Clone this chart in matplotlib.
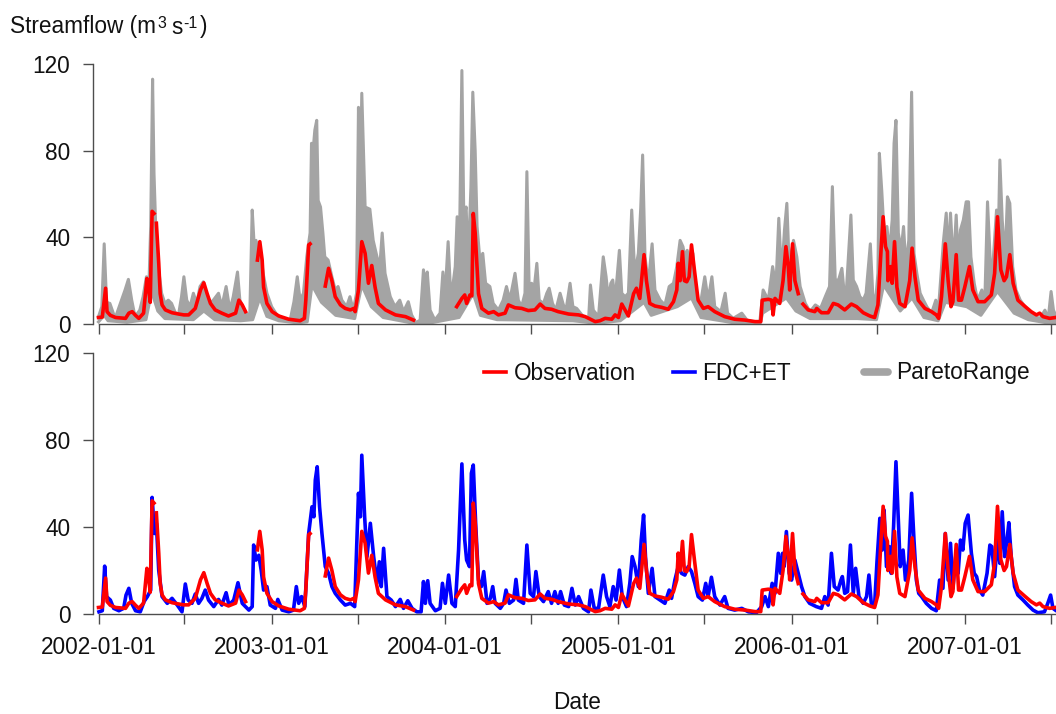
import numpy as np
import matplotlib
matplotlib.use('Agg')
import matplotlib.pyplot as plt
from matplotlib.lines import Line2D
from matplotlib.legend import Legend

plt.rcParams['font.family'] = ['Liberation Sans', 'DejaVu Sans']

# ---------------- data (days since 2002-01-01, streamflow m3/s) ----------------
nan = np.nan
obs_day = [0, 8, 15, 18, 25, 36, 57, 64, 71, 78, 85, 95, 102, 106, 109, 113, 117, 119,
           122, 127, 130, 134, 141, 155, 169, 180, 190, 197, 204, 215, 222, 229, 236, 246,
           260, 274, 289, 296, 303, 310, 320, 335, 340, 345, 348, 355, 366, 380, 401, 415,
           425, 434, 437, 443, 446, 460, 478, 485, 492, 499, 510, 520, 531, 538, 541, 548,
           555, 562, 569, 576, 583, 590, 605, 626, 647, 664, 700, 755, 766, 772, 776, 783,
           787, 790, 794, 801, 808, 822, 833, 843, 857, 864, 878, 892, 906, 920, 931, 941,
           955, 969, 991, 1012, 1026, 1047, 1057, 1068, 1082, 1089, 1096, 1103, 1110, 1117,
           1128, 1134, 1141, 1150, 1155, 1162, 1173, 1187, 1201, 1212, 1219, 1222, 1226,
           1231, 1235, 1240, 1245, 1250, 1257, 1264, 1275, 1285, 1299, 1320, 1341, 1363,
           1384, 1396, 1399, 1412, 1419, 1422, 1426, 1436, 1443, 1449, 1454, 1457, 1463,
           1468, 1475, 1480, 1485, 1496, 1510, 1514, 1524, 1538, 1549, 1559, 1573, 1587,
           1598, 1612, 1626, 1636, 1643, 1650, 1654, 1659, 1663, 1664, 1670, 1673, 1678,
           1683, 1689, 1700, 1710, 1715, 1721, 1728, 1742, 1756, 1766, 1771, 1777, 1785,
           1791, 1797, 1801, 1808, 1813, 1819, 1826, 1836, 1843, 1854, 1868, 1882, 1889,
           1895, 1902, 1909, 1914, 1921, 1928, 1938, 1952, 1966, 1977, 1984, 1991, 2005, 2017]
obs_val = [3.0, 3.2, 16.5, 5.7, 4.0, 3.0, 2.6, 5.0, 5.7, 4.0, 2.6, 5.0, 21.0, 15.7, 10.0, 52.0, 51.0, nan,
           46.5, 28.0, 14.0, 8.8, 6.5, 5.2, 4.6, 4.2, 4.2, 5.7, 7.2, 15.7, 19.0, 14.0, 9.5, 6.5,
           5.0, 3.7, 5.0, 11.0, 8.8, 5.7, nan, 29.5, 38.0, 29.5, 17.0, 9.5, 5.7, 3.7, 2.2, 1.8,
           1.5, 2.6, 11.0, 36.5, 37.0, nan, 17.5, 25.7, 20.0, 12.6, 8.8, 7.2, 6.5, 7.2, 5.7, 15.7,
           38.0, 32.6, 18.8, 27.0, 17.0, 9.5, 6.5, 4.2, 3.4, 1.8, nan, 8.0, 11.8, 13.4, 9.5, 13.4,
           13.0, 51.0, 42.0, 14.0, 7.2, 5.0, 5.7, 4.2, 5.0, 8.8, 7.5, 7.2, 6.2, 6.5, 9.2, 7.2,
           6.8, 5.7, 4.6, 4.2, 3.4, 1.1, 1.5, 2.6, 2.2, 4.2, 3.0, 9.2, 6.5, 3.7,
           14.0, 16.5, 11.8, 32.0, 20.0, 9.5, 8.3, 7.7, 6.8, 10.3, 15.7, 28.0, 20.0,
           33.4, 20.0, 19.5, 21.8, 36.5, 23.4, 11.0, 7.2, 8.0, 5.7, 3.4, 2.2, 1.8,
           1.1, 1.1, 11.0, 11.4, 11.0, 4.2, 11.8, 9.5, 20.0, 35.7, 26.5, 15.7, 37.0,
           20.0, 14.0, nan, 9.2, 6.5, 5.7, 7.2, 5.2, 5.2, 9.5, 8.8, 6.5, 9.2,
           8.0, 5.2, 3.7, 3.0, 8.8, 35.7, 49.5, 35.7, 33.4, 20.0, 26.5, 18.8, 38.0,
           17.0, 9.5, 8.0, 20.0, 35.0, 21.8, 11.0, 7.2, 5.7, 4.2, 2.6, 12.6, 37.0,
           20.0, 8.0, 10.3, 32.0, 11.0, 11.0, 17.0, 26.5, 15.7, 10.3, 10.3, 13.4, 23.4,
           49.5, 25.0, 20.0, 21.8, 32.0, 18.8, 11.0, 8.3, 5.7, 4.2, 5.0, 3.4, 2.6, 3.0]

fdc_day = [1, 8, 13, 17, 25, 32, 43, 53, 58, 64, 70, 78, 88, 96, 103, 110, 113, 118, 122,
           127, 134, 145, 155, 166, 176, 183, 189, 197, 204, 211, 218, 225, 232, 243, 253,
           260, 269, 275, 285, 294, 303, 317, 324, 327, 332, 338, 343, 348, 355, 362, 373,
           378, 387, 401, 411, 417, 422, 428, 435, 443, 450, 454, 457, 461, 466, 471, 478,
           485, 492, 499, 510, 520, 531, 540, 548, 552, 555, 561, 566, 573, 580, 587, 592,
           596, 601, 608, 617, 626, 636, 643, 652, 661, 671, 680, 685, 689, 694, 699, 710,
           720, 725, 731, 738, 745, 752, 759, 766, 772, 776, 782, 786, 790, 795, 801, 807,
           812, 819, 826, 831, 836, 847, 854, 859, 866, 875, 880, 885, 896, 903, 910, 917,
           922, 929, 938, 948, 955, 962, 969, 974, 982, 991, 998, 1005, 1012, 1022, 1033,
           1038, 1045, 1054, 1064, 1071, 1078, 1085, 1091, 1098, 1104, 1113, 1120, 1125,
           1131, 1138, 1144, 1149, 1153, 1159, 1167, 1173, 1184, 1194, 1203, 1208, 1215,
           1222, 1229, 1236, 1243, 1250, 1257, 1264, 1273, 1280, 1285, 1292, 1299, 1310,
           1320, 1327, 1341, 1356, 1370, 1387, 1398, 1405, 1412, 1420, 1426, 1433, 1438,
           1442, 1445, 1450, 1456, 1461, 1468, 1475, 1482, 1489, 1499, 1513, 1524, 1531,
           1538, 1545, 1551, 1559, 1565, 1568, 1573, 1579, 1585, 1591, 1596, 1603, 1612,
           1619, 1624, 1629, 1636, 1641, 1647, 1652, 1656, 1661, 1667, 1671, 1676, 1681,
           1686, 1690, 1696, 1701, 1708, 1714, 1719, 1724, 1729, 1735, 1745, 1756, 1766,
           1773, 1780, 1785, 1791, 1796, 1801, 1807, 1812, 1817, 1822, 1827, 1833, 1840,
           1846, 1851, 1857, 1864, 1873, 1879, 1883, 1889, 1895, 1900, 1905, 1910, 1915,
           1919, 1924, 1931, 1938, 1949, 1959, 1970, 1980, 1994, 2001, 2007, 2012, 2017]
fdc_val = [1.0, 1.5, 22.0, 8.0, 6.4, 2.6, 1.5, 2.6, 8.7, 11.8, 4.9, 1.5, 1.0, 5.7, 8.0, 11.0, 53.6, 37.0, 41.7,
           20.0, 8.0, 4.9, 7.2, 4.1, 1.0, 13.8, 6.4, 4.9, 9.2, 4.9, 7.2, 11.0, 6.4, 3.4, 6.7,
           4.1, 9.8, 4.1, 6.4, 14.4, 4.9, 1.8, 3.4, 31.7, 24.8, 27.0, 20.0, 11.0, 12.6, 4.1, 2.6,
           6.7, 1.8, 1.0, 1.8, 12.6, 4.9, 8.0, 3.4, 37.0, 49.3, 44.7, 61.6, 67.7, 49.3, 37.0, 21.8,
           18.7, 12.6, 9.5, 6.4, 4.1, 4.9, 3.4, 55.5, 44.7, 73.0, 44.7, 26.4, 41.7, 26.4, 14.1, 24.0,
           12.6, 30.2, 8.0, 6.4, 3.4, 6.7, 2.6, 6.1, 2.6, 1.0, 1.0, 14.9, 4.9, 15.3, 4.9, 1.5,
           2.6, 14.1, 4.9, 17.9, 4.9, 3.4, 29.4, 69.0, 34.0, 24.8, 21.8, 64.7, 68.5, 41.7, 15.6, 12.6,
           19.5, 4.9, 7.2, 12.6, 4.9, 2.6, 4.9, 11.0, 4.9, 6.4, 15.9, 6.4, 4.9, 31.7, 9.5, 8.0,
           19.5, 8.0, 5.7, 10.3, 4.9, 10.3, 4.9, 10.3, 4.1, 3.4, 11.8, 4.1, 8.0, 2.6, 1.0,
           11.0, 2.6, 2.6, 17.9, 8.0, 3.4, 12.6, 6.4, 20.2, 8.0, 3.4, 14.1, 26.4,
           21.8, 12.6, 34.0, 45.5, 26.4, 9.5, 21.0, 8.0, 6.4, 4.9, 11.0, 7.2, 15.6,
           21.8, 18.7, 17.9, 21.8, 19.5, 14.1, 8.0, 6.4, 14.1, 8.0, 16.9, 8.0, 4.1,
           8.0, 2.6, 1.8, 2.6, 1.0, 0.6, 3.4, 8.0, 3.4, 14.1, 9.5, 27.9, 18.7,
           27.9, 21.8, 37.9, 18.7, 15.6, 24.8, 18.7, 12.6, 8.0, 4.9, 3.4, 2.6, 8.0,
           4.1, 27.9, 12.6, 11.0, 15.6, 17.2, 9.5, 10.3, 31.7, 9.5, 21.0, 8.0, 4.9,
           8.0, 17.9, 4.9, 4.1, 24.0, 44.0, 29.4, 47.8, 21.8, 31.0, 18.7, 40.2, 70.0,
           43.2, 21.8, 29.4, 15.6, 24.8, 55.5, 34.0, 15.6, 9.5, 8.0, 4.9, 2.6, 1.5,
           15.6, 11.8, 37.0, 15.6, 32.5, 11.8, 26.4, 18.7, 34.0, 29.4, 41.7, 45.5, 27.9,
           18.7, 17.2, 11.0, 8.7, 18.7, 31.7, 31.0, 17.2, 34.0, 23.3, 47.0, 26.4, 34.0,
           42.0, 26.4, 12.6, 8.7, 6.4, 4.1, 1.8, 0.6, 1.0, 4.9, 8.7, 2.6, 1.8]

pareto_hi_day = [0, 7, 12, 17, 24, 35, 56, 63, 70, 77, 87, 94, 101, 106, 110, 114, 117, 121,
                 126, 133, 140, 147, 154, 161, 168, 175, 180, 186, 193, 200, 207, 214, 221,
                 228, 235, 242, 253, 260, 269, 277, 284, 293, 298, 312, 319, 324, 328, 332,
                 337, 340, 347, 355, 365, 376, 390, 404, 412, 419, 425, 432, 439, 446, 449,
                 453, 456, 460, 463, 468, 473, 477, 484, 492, 499, 505, 513, 523, 530, 537,
                 544, 548, 551, 555, 562, 572, 579, 587, 593, 598, 604, 615, 625, 635, 643,
                 653, 660, 669, 678, 685, 690, 693, 699, 709, 720, 726, 730, 737, 743, 752,
                 756, 761, 766, 770, 775, 779, 785, 789, 794, 798, 804, 810, 816, 825, 832,
                 843, 853, 860, 867, 878, 885, 892, 899, 903, 908, 913, 918, 924, 929, 938,
                 945, 950, 957, 964, 973, 979, 985, 994, 1000, 1008, 1019, 1033, 1037, 1043,
                 1054, 1064, 1070, 1075, 1080, 1084, 1089, 1098, 1103, 1110, 1117, 1124, 1129,
                 1133, 1138, 1143, 1147, 1152, 1159, 1167, 1173, 1184, 1194, 1203, 1212, 1219,
                 1226, 1232, 1236, 1241, 1247, 1253, 1257, 1268, 1278, 1285, 1293, 1299, 1312,
                 1321, 1326, 1338, 1356, 1367, 1381, 1394, 1401, 1412, 1421, 1428, 1434, 1440,
                 1446, 1451, 1456, 1465, 1472, 1479, 1490, 1500, 1511, 1522, 1532, 1541, 1547,
                 1553, 1560, 1567, 1572, 1577, 1586, 1591, 1598, 1605, 1612, 1618, 1627, 1632,
                 1637, 1643, 1646, 1651, 1656, 1662, 1667, 1673, 1677, 1681, 1686, 1692, 1697,
                 1702, 1708, 1714, 1719, 1725, 1732, 1739, 1746, 1756, 1765, 1770, 1781, 1787,
                 1791, 1796, 1802, 1808, 1812, 1817, 1823, 1829, 1834, 1839, 1846, 1853, 1862,
                 1868, 1874, 1880, 1886, 1893, 1897, 1900, 1905, 1911, 1916, 1921, 1927, 1934,
                 1943, 1953, 1964, 1974, 1985, 1995, 2002, 2008, 2013, 2019]
pareto_hi_val = [3.4, 8.0, 37.0, 10.0, 9.5, 2.6, 15.7, 20.6, 11.0, 3.4, 6.4, 12.6, 21.8, 15.7, 45.0, 113.0, 69.5, 42.0,
                 26.5, 14.2, 9.5, 11.0, 9.5, 5.7, 3.4, 12.6, 21.8, 11.0, 8.0, 14.2, 9.5, 17.3, 19.5,
                 12.6, 9.5, 11.0, 14.2, 8.0, 17.3, 6.4, 12.6, 24.0, 11.0, 4.0, 5.0, 52.6, 37.0, 38.6,
                 32.6, 35.7, 23.4, 14.2, 8.0, 4.2, 2.6, 1.8, 10.3, 21.8, 11.0, 14.2, 31.0, 42.0, 83.4,
                 81.8, 89.5, 94.0, 57.0, 54.0, 42.0, 31.0, 29.5, 21.8, 15.7, 17.3, 11.0, 8.0, 12.6, 6.4,
                 14.2, 100.0, 50.0, 106.5, 54.0, 53.0, 38.6, 31.0, 26.5, 42.0, 23.4, 12.6, 8.0, 11.0, 5.7,
                 10.3, 4.2, 0.6, 1.8, 25.0, 15.7, 24.0, 6.4, 1.8, 5.0, 24.0, 11.0, 38.0, 11.0, 26.5,
                 49.5, 38.6, 117.0, 49.5, 54.0, 26.5, 63.0, 107.0, 80.0, 45.0, 29.5, 32.6, 18.8, 17.3, 9.5,
                 6.4, 11.0, 17.3, 11.0, 23.4, 11.0, 8.0, 14.2, 70.3, 14.2, 18.8, 15.7, 28.0, 11.0, 9.5,
                 14.2, 16.5, 9.5, 6.4, 14.2, 9.5, 5.7, 18.8, 8.0, 7.2, 4.2, 1.8, 18.0, 6.4,
                 3.4, 31.0, 21.8, 11.0, 18.8, 20.3, 11.0, 34.0, 14.2, 12.6, 14.2, 52.6, 29.5,
                 26.5, 32.6, 53.5, 78.0, 31.0, 18.8, 37.0, 15.7, 11.0, 8.8, 17.3, 18.8, 26.5,
                 38.6, 35.7, 31.0, 34.0, 28.0, 32.6, 14.2, 8.0, 21.8, 11.0, 21.8, 8.0, 5.7,
                 14.2, 5.0, 2.6, 5.0, 1.8, 1.0, 1.0, 15.7, 11.0, 26.5, 17.3, 48.8, 21.8,
                 43.4, 55.7, 26.5, 38.6, 31.0, 17.3, 9.5, 5.7, 8.8, 7.2, 12.6, 17.3, 63.4,
                 20.3, 20.3, 25.7, 14.2, 17.3, 50.3, 20.3, 17.3, 12.6, 11.0, 14.2, 37.0, 14.2,
                 8.0, 23.4, 78.8, 61.8, 42.0, 45.0, 32.6, 48.0, 83.4, 94.0, 42.0, 34.0, 45.0,
                 26.5, 38.6, 107.0, 32.6, 23.4, 14.2, 11.0, 8.0, 5.0, 11.0, 5.0, 38.0, 51.2,
                 29.5, 51.2, 26.5, 50.3, 29.5, 43.4, 48.0, 56.4, 56.4, 31.0, 18.8, 11.0, 15.7,
                 8.0, 56.4, 28.0, 29.5, 52.6, 42.0, 75.7, 48.0, 29.5, 58.7, 55.7, 26.5, 15.7,
                 11.0, 8.0, 5.0, 3.4, 2.6, 6.4, 2.6, 15.0, 6.4, 3.4]

pareto_lo_day = [0, 12, 20, 60, 100, 112, 125, 140, 200, 222, 245, 300, 325, 340, 355, 380,
                 420, 440, 450, 470, 500, 540, 555, 575, 600, 660, 700, 760, 790, 805, 840,
                 1000, 1050, 1100, 1150, 1165, 1220, 1250, 1270, 1340, 1395, 1400, 1450, 1470,
                 1500, 1600, 1640, 1655, 1690, 1715, 1740, 1770, 1785, 1830, 1860, 1895, 1930,
                 1960, 2000, 2019]
pareto_lo_val = [1.0, 4.0, 1.5, 0.8, 2.0, 15.0, 6.0, 2.5, 2.0, 6.0, 2.0, 1.5, 2.0, 12.0, 3.5, 1.5,
                 0.5, 1.0, 18.0, 10.0, 4.0, 2.5, 18.0, 8.0, 3.0, 0.5, 0.5, 3.0, 14.0, 4.0, 2.0,
                 1.5, 0.3, 1.5, 10.0, 4.0, 8.0, 12.0, 3.0, 0.5, 0.5, 5.0, 12.0, 6.0,
                 2.5, 2.5, 2.0, 18.0, 6.0, 12.0, 3.0, 1.5, 10.0, 8.0, 4.0, 15.0, 5.0,
                 2.0, 0.5, 0.5]

tick_dates = ['2002-01-01', '2002-07-01', '2003-01-01', '2003-07-01', '2004-01-01',
              '2004-07-01', '2005-01-01', '2005-07-01', '2006-01-01', '2006-07-01',
              '2007-01-01', '2007-07-01']
y_ticks = [0, 40, 80, 120]

# ---------------- drawing ----------------
RED = '#ff0000'
BLUE = '#0000ff'
GRAY = '#a4a4a4'
AXC = '#4d4d4d'
TXT = '#111111'
FS = 16.3
LW = 2.6

base = np.datetime64('2002-01-01')
tick_pos = (np.array(tick_dates, dtype='datetime64[D]') - base).astype(int)
tick_lab = [d if d.endswith('-01-01') else '' for d in tick_dates]

fig = plt.figure(figsize=(10.56, 7.14), dpi=100)
W, H = 1056.0, 714.0
ax1 = fig.add_axes([93 / W, 1 - 324 / H, 968 / W, 260 / H])
ax2 = fig.add_axes([93 / W, 1 - 614 / H, 968 / W, 261 / H])

XMIN, XMAX = -11.6, 2028.9


def style(ax, labels):
    ax.set_xlim(XMIN, XMAX)
    ax.set_ylim(0, 120)
    for s in ['top', 'right']:
        ax.spines[s].set_visible(False)
    for s in ['left', 'bottom']:
        ax.spines[s].set_color(AXC)
        ax.spines[s].set_linewidth(1.0)
    ax.spines['left'].set_bounds(0, 120)
    ax.spines['bottom'].set_bounds(0, XMAX)
    ax.set_yticks(y_ticks)
    ax.set_yticklabels([str(v) for v in y_ticks])
    ax.set_xticks(tick_pos)
    ax.set_xticklabels(labels)
    ax.tick_params(direction='out', length=7.2, width=1.0, color=AXC,
                   labelcolor=TXT, labelsize=FS, pad=9.0)


# top panel
lo_d = np.array(pareto_lo_day, dtype=float)
hi_d = np.array(pareto_hi_day, dtype=float)
ax1.fill(np.concatenate([hi_d, lo_d[::-1]]),
         np.concatenate([pareto_hi_val, pareto_lo_val[::-1]]),
         color=GRAY, lw=0, zorder=1)
ax1.plot(hi_d, pareto_hi_val, color=GRAY, lw=2.2, zorder=1.5)
ax1.plot(lo_d, pareto_lo_val, color=GRAY, lw=2.2, zorder=1.5)
ax1.plot(obs_day, obs_val, color=RED, lw=LW, zorder=3)
style(ax1, [''] * len(tick_pos))

# bottom panel
ax2.plot(fdc_day, fdc_val, color=BLUE, lw=LW, zorder=2)
ax2.plot(obs_day, obs_val, color=RED, lw=LW, zorder=3)
style(ax2, tick_lab)

# legends (three separate entries, positioned like the original)
leg_items = [
    (Line2D([], [], color=RED, lw=LW), 'Observation', (484 - 93) / 968, 0.95),
    (Line2D([], [], color=BLUE, lw=LW), 'FDC+ET', (673 - 93) / 968, 0.95),
    (Line2D([], [], color=GRAY, lw=5.5, solid_capstyle='round'), 'ParetoRange',
     (864 - 93) / 968, 1.05),
]
for h, lab, xa, hl in leg_items:
    lg = Legend(ax2, [h], [lab], loc='center left', bbox_to_anchor=(xa, (614 - 373) / 261),
                frameon=False, borderpad=0, borderaxespad=0, handlelength=hl,
                handletextpad=0.35, fontsize=FS, labelcolor=TXT)
    ax2.add_artist(lg)

# y-axis title with plain-hyphen superscripts, laid out piece by piece
renderer = fig.canvas.get_renderer()
pieces = [('Streamflow (m', FS, 0, 0), ('3', 11.5, 6, 1), ('s', FS, 0, 5),
          ('-1', 11.5, 6, 1), (')', FS, 0, 2)]
xp = 10.0
for s, fs, dy, gap in pieces:
    xp += gap
    t = fig.text(xp / W, 1 - (33.5 - dy) / H, s, fontsize=fs, ha='left',
                 va='baseline', color=TXT)
    xp += t.get_window_extent(renderer).width

fig.text(577 / W, 1 - 709 / H, 'Date', fontsize=FS, ha='center', va='baseline', color=TXT)

fig.savefig('out.png', dpi=100)
